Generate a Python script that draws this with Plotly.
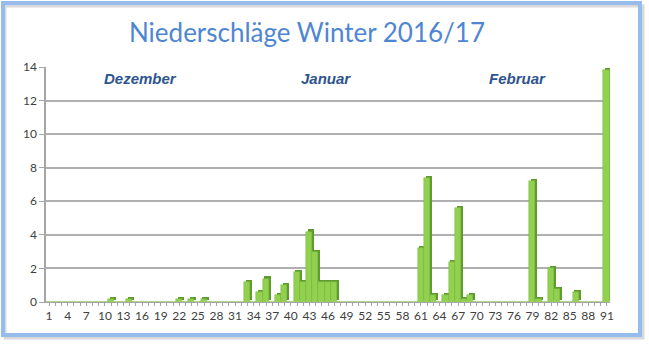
import plotly.graph_objects as go

days = list(range(1, 92))
precip = [
    0, 0, 0, 0, 0, 0, 0, 0, 0, 0,
    0.2, 0, 0, 0.2, 0, 0, 0, 0, 0, 0,
    0, 0.2, 0, 0.2, 0, 0.2, 0, 0, 0, 0,
    0, 0, 1.2, 0, 0.6, 1.4, 0, 0.4, 1.0, 0,
    1.8, 1.2, 4.2, 3.0, 1.2, 1.2, 1.2, 0, 0, 0,
    0, 0, 0, 0, 0, 0, 0, 0, 0, 0,
    3.2, 7.4, 0.4, 0, 0.4, 2.4, 5.6, 0.2, 0.4, 0,
    0, 0, 0, 0, 0, 0, 0, 0, 7.2, 0.2,
    0, 2.0, 0.8, 0, 0, 0.6, 0, 0, 0, 0,
    13.8,
]
tick_labels = [str(d) for d in range(1, 92, 3)]
months = ["Dezember", "Januar", "Februar"]
month_pos = [15.7, 45.7, 76.5]

W, H = 649, 347
L, R, T, B = 46, 39, 67, 45
pw, ph = W - L - R, H - T - B

def px(x):
    return (x - L) / pw

def py(y):
    return (H - B - y) / ph

fig = go.Figure()

# back (depth) face of 3D bars
depth_x = [d for d, v in zip(days, precip) if v > 0]
depth_y = [v for v in precip if v > 0]
fig.add_trace(go.Bar(
    x=depth_x, y=depth_y, base=0.12, offset=-0.25, width=1,
    marker=dict(color="#5E9B2F", line=dict(width=0)),
    hoverinfo="skip", showlegend=False,
))
fig.add_trace(go.Bar(
    x=days, y=precip, offset=-0.55, width=1,
    marker=dict(color="#92D050", line=dict(color="#7DB83F", width=0.5)),
    showlegend=False,
))

for m, xpos in zip(months, month_pos):
    fig.add_annotation(
        x=xpos, y=13.3, xref="x", yref="y", text=f"<b><i>{m}</i></b>",
        showarrow=False, font=dict(family="Liberation Sans", size=15, color="#2E548F"),
    )

# frame shadow
fig.add_shape(type="rect", xref="paper", yref="paper",
              x0=px(5), x1=px(643), y0=py(338), y1=py(6),
              line=dict(color="#D9D9D9", width=3), layer="below")
# frame
fig.add_shape(type="rect", xref="paper", yref="paper",
              x0=px(3), x1=px(640), y0=py(335), y1=py(3),
              line=dict(color="#95BCEB", width=4), layer="below")

fig.update_layout(
    width=W, height=H,
    margin=dict(l=L, r=R, t=T, b=B),
    paper_bgcolor="white", plot_bgcolor="white",
    bargap=0, barmode="overlay",
    title=dict(text="Niederschläge Winter 2016/17", x=307 / W, xanchor="center",
               y=1 - 33 / H, yanchor="middle",
               font=dict(family="Lato", size=26, color="#4F86D2")),
    xaxis=dict(
        range=[0.5, 91.5], tickmode="array", tickvals=list(range(1, 92, 3)),
        ticktext=tick_labels, ticks="outside", ticklen=3, tickcolor="#A6A6A6",
        showline=True, linecolor="#A6A6A6", linewidth=1, showgrid=False,
        minor=dict(dtick=1, tick0=1, ticks="outside", ticklen=3, tickcolor="#A6A6A6"),
        tickfont=dict(family="Lato", size=12, color="#404040"), zeroline=False,
    ),
    yaxis=dict(
        range=[0, 14], dtick=2, ticks="outside", ticklen=5, tickcolor="#A6A6A6",
        showline=True, linecolor="#A6A6A6", linewidth=1.5,
        showgrid=True, gridcolor="#B0B0B0", gridwidth=1.5, zeroline=False,
        tickfont=dict(family="Lato", size=12, color="#404040"),
    ),
)

fig.write_html("out.html")
